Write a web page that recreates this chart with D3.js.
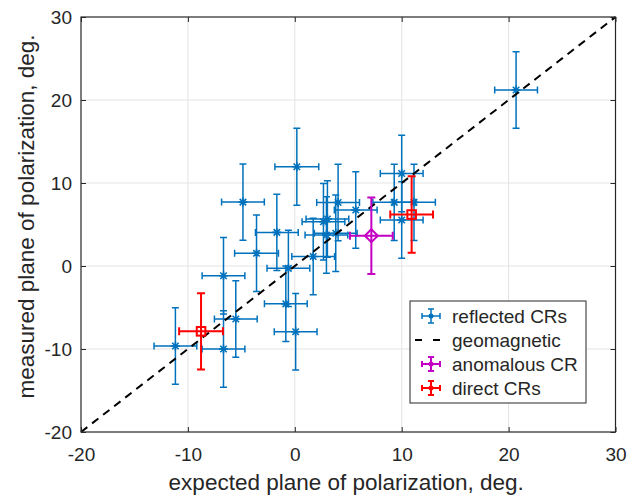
<!DOCTYPE html>
<html>
<head>
<meta charset="utf-8">
<script src="https://cdn.jsdelivr.net/npm/d3@7"></script>
<style>
  body { margin: 0; background: #fff; }
  svg text { font-family: "Liberation Sans", Arial, Helvetica, sans-serif; fill: #262626; }
  .grid line { stroke: #e3e3e3; stroke-width: 1; }
  .axis path { display: none; }
  .axis line { stroke: #262626; stroke-width: 1; }
</style>
</head>
<body>
<div id="plot"></div>
<script>
// data
const reflX    = [20.7, -4.85, -1.68, -3.58, -6.67, 0.19, 10.0, 4.05, 5.7, 3.05, 2.68, 3.83, 2.96, 1.72, -0.6, -0.84, 0.08, 9.3, 11.15, 10.0, -5.52, -11.17, -6.67]
const reflY    = [21.2, 7.7, 4.05, 1.53, -1.17, 11.96, 11.15, 7.65, 6.75, 5.66, 5.33, 3.94, 3.73, 1.15, -0.28, -4.56, -7.92, 7.67, 7.67, 5.54, -6.39, -9.64, -10.0]
const reflXErr = [2.0, 2.0, 2.0, 2.05, 2.0, 2.05, 2.0, 2.0, 2.0, 2.0, 2.0, 2.0, 2.0, 2.0, 2.0, 2.0, 2.0, 2.0, 2.0, 2.0, 2.0, 2.0, 2.0]
const reflYErr = [4.6, 4.6, 4.6, 4.6, 4.6, 4.65, 4.6, 4.6, 4.6, 4.6, 4.6, 4.6, 4.6, 4.6, 4.6, 4.55, 4.6, 4.6, 4.6, 4.6, 4.6, 4.6, 4.6]

const anomX = [7.16], anomY = [3.65], anomXErr = [2.0], anomYErr = [4.6]
const directX = [-8.77, 10.93], directY = [-7.87, 6.2], directXErr = [2.05, 2.0], directYErr = [4.6, 4.6]

const geoLine = [-20, 30]
const xTicks = [-20, -10, 0, 10, 20, 30],
      yTicks = [-20, -10, 0, 10, 20, 30]
const legendLabels = ["reflected CRs", "geomagnetic", "anomalous CR", "direct CRs"]

const w = 639, h = 497,
      margin = {top: 17, right: 23.5, bottom: 65, left: 81},
      blue = "#0072bd", red = "#ff0000", magenta = "#c400c4", ink = "#262626"

const x = d3.scaleLinear().domain([-20, 30]).range([margin.left, w - margin.right]),
      y = d3.scaleLinear().domain([-20, 30]).range([h - margin.bottom, margin.top])

const svg = d3.select("#plot").append("svg")
  .attr("width", w)
  .attr("height", h)

// grid
const grid = svg.append("g").attr("class", "grid")
grid.selectAll(".gx").data(xTicks.slice(1, -1)).join("line")
  .attr("x1", d => x(d)).attr("x2", d => x(d))
  .attr("y1", y(-20)).attr("y2", y(30))
grid.selectAll(".gy").data(yTicks.slice(1, -1)).join("line")
  .attr("y1", d => y(d)).attr("y2", d => y(d))
  .attr("x1", x(-20)).attr("x2", x(30))

// error bars with caps
const errorbars = (xs, ys, xe, ye, color, lw, cap) => {
  const g = svg.append("g")
    .attr("stroke", color)
    .attr("stroke-width", lw)
    .attr("fill", "none")
  xs.forEach((d, i) => {
    const cx = x(d), cy = y(ys[i])
    const x0 = x(d - xe[i]), x1 = x(d + xe[i]),
          y0 = y(ys[i] - ye[i]), y1 = y(ys[i] + ye[i])
    g.append("path").attr("d",
      `M${cx},${y0}V${y1}M${cx - cap},${y0}H${cx + cap}M${cx - cap},${y1}H${cx + cap}` +
      `M${x0},${cy}H${x1}M${x0},${cy - cap}V${cy + cap}M${x1},${cy - cap}V${cy + cap}`)
  })
  return g
}

// reflected CRs: asterisk markers
const gRefl = errorbars(reflX, reflY, reflXErr, reflYErr, blue, 1.5, 3.5)
reflX.forEach((d, i) => {
  const cx = x(d), cy = y(reflY[i]), r = 4.5, q = r * 0.72
  gRefl.append("path")
    .attr("stroke-width", 1.6)
    .attr("d", `M${cx - r},${cy}H${cx + r}M${cx},${cy - r}V${cy + r}` +
      `M${cx - q},${cy - q}L${cx + q},${cy + q}M${cx - q},${cy + q}L${cx + q},${cy - q}`)
})

// geomagnetic line
svg.append("line")
  .attr("x1", x(geoLine[0])).attr("y1", y(geoLine[0]))
  .attr("x2", x(geoLine[1])).attr("y2", y(geoLine[1]))
  .attr("stroke", "#000")
  .attr("stroke-width", 2)
  .attr("stroke-dasharray", "8,6")

// anomalous CR: diamond
const gAnom = errorbars(anomX, anomY, anomXErr, anomYErr, magenta, 2, 4)
anomX.forEach((d, i) => {
  const cx = x(d), cy = y(anomY[i]), r = 6.5
  gAnom.append("path")
    .attr("d", `M${cx},${cy - r}L${cx + r},${cy}L${cx},${cy + r}L${cx - r},${cy}Z`)
})

// direct CRs: squares
const gDir = errorbars(directX, directY, directXErr, directYErr, red, 2, 4)
directX.forEach((d, i) => {
  const cx = x(d), cy = y(directY[i]), r = 4.3
  gDir.append("rect")
    .attr("x", cx - r).attr("y", cy - r)
    .attr("width", 2 * r).attr("height", 2 * r)
})

// box + ticks
svg.append("rect")
  .attr("x", x(-20)).attr("y", y(30))
  .attr("width", x(30) - x(-20)).attr("height", y(-20) - y(30))
  .attr("fill", "none").attr("stroke", ink).attr("stroke-width", 1.2)

const fs = "19px", plain = d => String(d)
svg.append("g").attr("class", "axis")
  .attr("transform", `translate(0,${y(-20)})`)
  .call(d3.axisBottom(x).tickValues(xTicks).tickFormat(plain).tickSizeInner(-5).tickSizeOuter(0).tickPadding(16))
  .selectAll("text").style("font-size", fs).attr("fill", ink)
svg.append("g").attr("class", "axis")
  .attr("transform", `translate(0,${y(30)})`)
  .call(d3.axisTop(x).tickValues(xTicks).tickSizeInner(-5).tickSizeOuter(0).tickFormat(""))
svg.append("g").attr("class", "axis")
  .attr("transform", `translate(${x(-20)},0)`)
  .call(d3.axisLeft(y).tickValues(yTicks).tickFormat(plain).tickSizeInner(-5).tickSizeOuter(0).tickPadding(9))
  .selectAll("text").style("font-size", fs).attr("fill", ink)
svg.append("g").attr("class", "axis")
  .attr("transform", `translate(${x(30)},0)`)
  .call(d3.axisRight(y).tickValues(yTicks).tickSizeInner(-5).tickSizeOuter(0).tickFormat(""))

// axis labels
svg.append("text")
  .attr("x", (x(-20) + x(30)) / 2 - 2)
  .attr("y", 490)
  .attr("text-anchor", "middle")
  .style("font-size", "22.5px")
  .text("expected plane of polarization, deg.")
svg.append("text")
  .attr("transform", `translate(34,${(y(-20) + y(30)) / 2 - 8}) rotate(-90)`)
  .attr("text-anchor", "middle")
  .style("font-size", "22.5px")
  .text("measured plane of polarization, deg.")

// legend
const lg = svg.append("g")
lg.append("rect")
  .attr("x", 410).attr("y", 301).attr("width", 176).attr("height", 102)
  .attr("fill", "#fff").attr("stroke", ink).attr("stroke-width", 1)

const legendColors = [blue, "#000", magenta, red]
legendLabels.forEach((lab, i) => {
  const cy = 316 + i * 24, cx = 431
  if (i === 1) {
    lg.append("line")
      .attr("x1", 415).attr("x2", 441).attr("y1", cy).attr("y2", cy)
      .attr("stroke", "#000").attr("stroke-width", 2).attr("stroke-dasharray", "7,11")
  } else {
    const c = legendColors[i]
    lg.append("path")
      .attr("stroke", c).attr("stroke-width", i === 0 ? 1.5 : 2).attr("fill", "none")
      .attr("d", `M${cx - 9},${cy}H${cx + 9}M${cx - 9},${cy - 3}V${cy + 3}M${cx + 9},${cy - 3}V${cy + 3}` +
        `M${cx},${cy - 7}V${cy + 7}M${cx - 3},${cy - 7}H${cx + 3}M${cx - 3},${cy + 7}H${cx + 3}`)
    lg.append("circle").attr("cx", cx).attr("cy", cy).attr("r", 2.5).attr("fill", c)
  }
  lg.append("text")
    .attr("x", 452).attr("y", cy)
    .attr("dy", "0.36em")
    .style("font-size", "19px")
    .text(lab)
})
</script>
</body>
</html>
